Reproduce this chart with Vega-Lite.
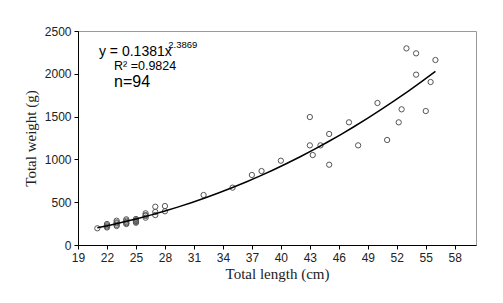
{
  "$schema": "https://vega.github.io/schema/vega-lite/v6.json",
  "width": 398,
  "height": 214,
  "autosize": {"type": "none"},
  "padding": {"left": 78, "top": 31, "right": 27, "bottom": 58},
  "background": "white",
  "config": {
    "view": {"stroke": "#999", "strokeWidth": 1},
    "axis": {
      "grid": false,
      "labelFont": "Liberation Sans",
      "labelFontSize": 12,
      "labelColor": "#222",
      "labelOverlap": false,
      "titleFont": "Liberation Serif",
      "titleFontSize": 15,
      "titleFontWeight": "normal",
      "titleColor": "#222",
      "domainColor": "#000",
      "tickColor": "#000",
      "tickSize": 4
    }
  },
  "datasets": {
    "fish": [
      {"l": 21, "w": 195},
      {"l": 22, "w": 245}, {"l": 22, "w": 230}, {"l": 22, "w": 216}, {"l": 22, "w": 205},
      {"l": 23, "w": 284}, {"l": 23, "w": 265}, {"l": 23, "w": 253}, {"l": 23, "w": 235}, {"l": 23, "w": 222},
      {"l": 24, "w": 300}, {"l": 24, "w": 285}, {"l": 24, "w": 269}, {"l": 24, "w": 255}, {"l": 24, "w": 245},
      {"l": 25, "w": 304}, {"l": 25, "w": 290}, {"l": 25, "w": 280}, {"l": 25, "w": 270}, {"l": 25, "w": 260},
      {"l": 26, "w": 370}, {"l": 26, "w": 350}, {"l": 26, "w": 339}, {"l": 26, "w": 319},
      {"l": 27, "w": 447}, {"l": 27, "w": 386}, {"l": 27, "w": 350},
      {"l": 28, "w": 455}, {"l": 28, "w": 394},
      {"l": 32, "w": 584},
      {"l": 35, "w": 670},
      {"l": 37, "w": 818},
      {"l": 38, "w": 864},
      {"l": 40, "w": 985},
      {"l": 43, "w": 1495}, {"l": 43, "w": 1164},
      {"l": 43.3, "w": 1051},
      {"l": 44.1, "w": 1164},
      {"l": 45, "w": 1297}, {"l": 45, "w": 938},
      {"l": 47.05, "w": 1433},
      {"l": 48, "w": 1164},
      {"l": 50, "w": 1659},
      {"l": 51, "w": 1227},
      {"l": 52.2, "w": 1433},
      {"l": 52.5, "w": 1585},
      {"l": 53, "w": 2297},
      {"l": 54, "w": 2239}, {"l": 54, "w": 1990},
      {"l": 55, "w": 1565},
      {"l": 55.5, "w": 1904},
      {"l": 56, "w": 2161}
    ],
    "labels": [
      {"t": "y = 0.1381x", "l": 21.17, "w": 2258, "s": 14},
      {"t": "R² =0.9824", "l": 22.73, "w": 2090, "s": 12.5},
      {"t": "n=94", "l": 22.73, "w": 1905, "s": 16}
    ],
    "sup": [
      {"t": "2.3869", "l": 28.35, "w": 2340}
    ]
  },
  "encoding": {
    "x": {"field": "l", "type": "quantitative",
          "scale": {"domain": [19, 60.2], "nice": false, "zero": false},
          "axis": {"values": [19, 22, 25, 28, 31, 34, 37, 40, 43, 46, 49, 52, 55, 58], "format": "d", "labelOverlap": false, "labelBound": false, "labelFlush": false, "title": "Total length (cm)", "titlePadding": 3, "labelPadding": 3}},
    "y": {"field": "w", "type": "quantitative",
          "scale": {"domain": [0, 2500], "nice": false},
          "axis": {"values": [0, 500, 1000, 1500, 2000, 2500], "format": "d", "labelOverlap": false, "title": "Total weight (g)", "titlePadding": 6, "labelPadding": 3}}
  },
  "layer": [
    {
      "data": {"name": "fish"},
      "mark": {"type": "point", "shape": "circle", "filled": false, "stroke": "#555", "strokeWidth": 1, "size": 28, "opacity": 1}
    },
    {
      "data": {"name": "fish"},
      "transform": [{"regression": "w", "on": "l", "method": "pow"}],
      "mark": {"type": "line", "color": "#000", "strokeWidth": 1.5},
      "encoding": {}
    },
    {
      "data": {"name": "labels"},
      "mark": {"type": "text", "align": "left", "baseline": "middle", "font": "Liberation Sans", "color": "#000"},
      "encoding": {
        "text": {"field": "t"},
        "size": {"field": "s", "type": "quantitative", "scale": null}
      }
    },
    {
      "data": {"name": "sup"},
      "mark": {"type": "text", "align": "left", "baseline": "middle", "font": "Liberation Sans", "fontSize": 9.5, "color": "#000"},
      "encoding": {
        "text": {"field": "t"}
      }
    }
  ]
}
